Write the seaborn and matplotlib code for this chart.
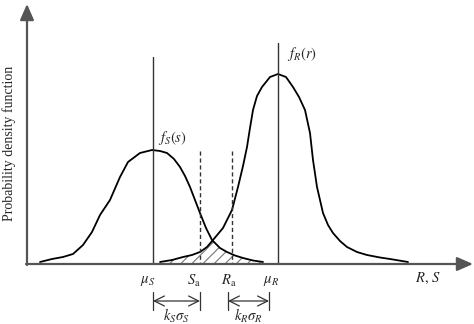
import numpy as np
import pandas as pd
import matplotlib
matplotlib.use("Agg")
import matplotlib.pyplot as plt
import seaborn as sns

s_curve_x = [40, 52, 63, 73, 83, 92, 100, 110, 120, 128, 140, 152, 160, 167, 174, 180, 185, 190, 200, 206, 212, 220, 227, 235, 243, 253, 263]
s_curve_y = [262, 259, 257, 254, 245, 232, 215, 200, 177, 162, 153, 150, 151, 153, 159, 167, 176, 187, 213, 228, 240, 248, 252, 255.5, 258, 260.5, 262]

r_curve_x = [160, 172, 183, 192, 200, 207, 213, 223, 232, 238, 243, 247, 250, 253, 257, 262, 270, 278, 286, 293, 299, 305, 310, 313, 317, 323, 328, 333, 340, 347, 357, 367, 380, 390, 408]
r_curve_y = [262, 260, 257, 255, 252, 247, 240, 228, 210, 187, 166, 147, 128, 110, 96, 87, 77, 74, 77, 87, 97, 110, 133, 160, 187, 213, 225, 233, 241, 247, 252, 255, 257.5, 259, 262]

overlap_x = [160, 172, 183, 192, 200, 207, 212, 220, 227, 235, 243, 253, 263]
overlap_y = [262, 260, 257, 255, 252, 247, 240, 248, 252, 255.5, 258, 260.5, 262]

mu_S, mu_R, S_a, R_a = 153, 278, 200, 232
baseline = 264

tick_labels = [r"$\mu_S$", r"$S_{\rm a}$", r"$R_{\rm a}$", r"$\mu_R$"]
tick_pos = [148, 194, 229, 271]

sns.set_theme(style="white")
plt.rcParams["font.family"] = ["Liberation Serif", "DejaVu Serif"]
plt.rcParams["mathtext.fontset"] = "stix"

fig = plt.figure(figsize=(4.74, 3.24), dpi=100)
ax = fig.add_axes([0, 0, 1, 1])
ax.set_xlim(0, 474)
ax.set_ylim(324, 0)
ax.axis("off")

df_s = pd.DataFrame({"x": s_curve_x, "y": s_curve_y})
df_r = pd.DataFrame({"x": r_curve_x, "y": r_curve_y})
sns.lineplot(data=df_s, x="x", y="y", sort=False, estimator=None, color="black", lw=1.3, ax=ax)
sns.lineplot(data=df_r, x="x", y="y", sort=False, estimator=None, color="black", lw=1.3, ax=ax)

# hatched overlap
plt.rcParams["hatch.color"] = "#777777"
plt.rcParams["hatch.linewidth"] = 0.8
ax.fill_between(overlap_x, overlap_y, baseline, facecolor="none", edgecolor="#777777",
                hatch="///", linewidth=0)

# axes with arrows
axcol = "#555555"
ax.annotate("", xy=(473, baseline), xytext=(26, baseline),
            arrowprops=dict(arrowstyle="-|>,head_length=0.8,head_width=0.35", color=axcol, lw=1.6,
                            shrinkA=0, shrinkB=0))
ax.annotate("", xy=(27, 4), xytext=(27, baseline + 1),
            arrowprops=dict(arrowstyle="-|>,head_length=0.8,head_width=0.35", color=axcol, lw=1.6,
                            shrinkA=0, shrinkB=0))

# mean lines
ax.plot([mu_S, mu_S], [57, baseline], color="#333333", lw=1.0)
ax.plot([mu_R, mu_R], [43, baseline], color="#333333", lw=1.0)
# dashed lines
ax.plot([S_a, S_a], [151, baseline], color="#333333", lw=1.0, ls=(0, (3, 2)))
ax.plot([R_a, R_a], [151, baseline], color="#333333", lw=1.0, ls=(0, (3, 2)))

# labels
fs = 10.5
for lab, xp in zip(tick_labels, tick_pos):
    ax.text(xp, 281, lab, ha="center", va="center", fontsize=fs)
ax.text(428, 278, r"$R,\,S$", ha="center", va="center", fontsize=fs)
ax.text(158, 138, r"$f_S(s)$", ha="left", va="center", fontsize=fs)
ax.text(287, 54, r"$f_R(r)$", ha="left", va="center", fontsize=fs)
ax.text(9, 143, "Probability density function", rotation=90, ha="center", va="center", fontsize=10)

# dimension arrows
for x0, x1, lab in [(mu_S, S_a, r"$k_S\sigma_S$"), (228, 269, r"$k_R\sigma_R$")]:
    ax.annotate("", xy=(x1, 301), xytext=(x0, 301),
                arrowprops=dict(arrowstyle="<->,head_length=0.6,head_width=0.3", color="#333333", lw=0.9,
                                shrinkA=0, shrinkB=0))
    ax.plot([x0, x0], [292, 310], color="#333333", lw=0.9)
    ax.plot([x1, x1], [292, 310], color="#333333", lw=0.9)
    ax.text((x0 + x1) / 2, 307, lab, ha="center", va="top", fontsize=10.5)

fig.savefig("out.png", dpi=100)
